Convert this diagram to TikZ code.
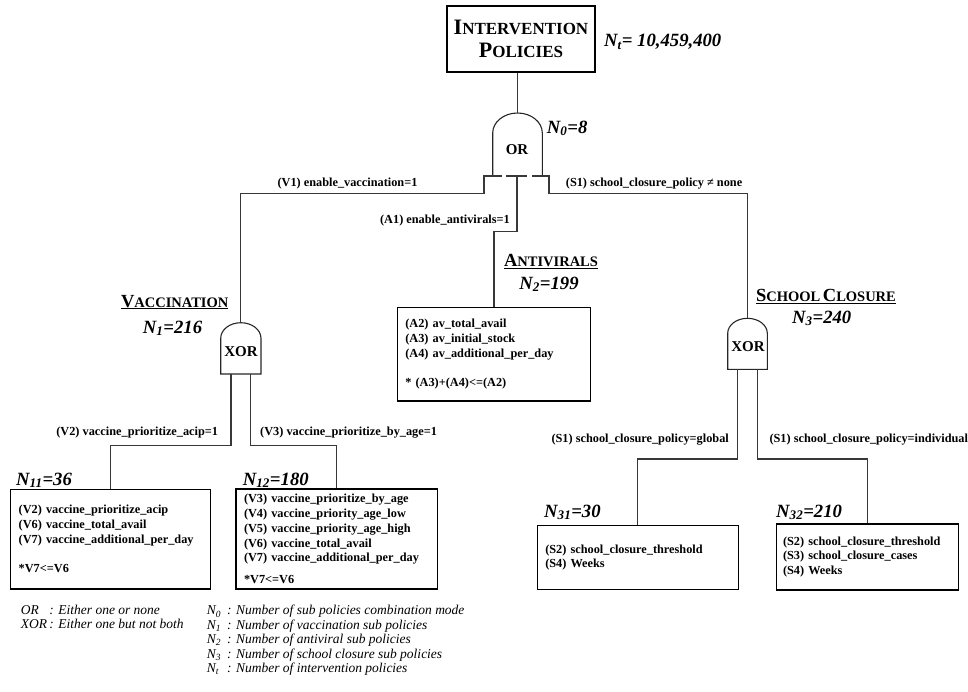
\documentclass[tikz,border=0pt]{standalone}
\usepackage{fontspec}
\setmainfont{Liberation Serif}
\newcommand{\fsc}[4]{{\fontsize{#1}{#1}\selectfont #3}{\fontsize{#2}{#2}\selectfont #4}}
\tikzset{
  conn/.style={draw=black!78, line width=1.1pt},
  gate/.style={draw=black!85, line width=1.1pt},
  lbl/.style={font=\fontsize{12.3}{14.7}\selectfont\bfseries, inner sep=0pt},
  nlbl/.style={font=\fontsize{18.7}{20}\selectfont\bfseries\itshape, inner sep=0pt},
  head/.style={font=\bfseries, inner sep=0pt},
  gatetxt/.style={font=\fontsize{15}{16}\selectfont\bfseries, inner sep=0pt},
  pbox/.style={draw=black, line width=1.1pt, align=left, inner xsep=8pt, inner ysep=0pt,
    font=\fontsize{12.3}{14.7}\selectfont\bfseries},
  legend/.style={font=\fontsize{13.5}{14.4}\selectfont\itshape, inner sep=0pt}
}
\begin{document}
\begin{tikzpicture}[x=1pt,y=-1pt]
\useasboundingbox (0,0) rectangle (968,691);

% top box
\node[draw=black, line width=1.1pt, minimum width=148pt, minimum height=66pt, align=center,
  font=\fontsize{22}{22.3}\selectfont\bfseries, inner sep=0pt] (ip) at (521,39)
  {\fsc{22}{17}{I}{NTERVENTION}\\\fsc{22}{17}{P}{OLICIES}};
\node[nlbl, anchor=base west] (nt) at (604,46.5) {N\textsubscript{t}= 10,459,400};

% OR gate
\coordinate (orTop) at (517.5,113);
\draw[gate] (492.7,176) -- (492.7,133) arc[start angle=180,end angle=0,x radius=24.8pt,y radius=20pt] -- (542.3,176);
\node[gatetxt] (ortxt) at (517,149.3) {OR};
\node[nlbl, anchor=base west] (n0) at (546.7,133) {N\textsubscript{0}=8};
\draw[conn] (orTop) -- (orTop |- ip.south);

% OR bottom connector stubs
\coordinate (orBL1) at (501.7,176);
\coordinate (orBL) at (484,176);
\coordinate (orBM1) at (506,176);
\coordinate (orBM2) at (527,176);
\coordinate (orBM) at (517,176);
\coordinate (orBR1) at (532,176);
\coordinate (orBR) at (549,176);

% vaccination gate
\coordinate (vgTop) at (240.85,322.7);
\draw[gate] (220.7,374) -- (220.7,338.3) arc[start angle=180,end angle=0,x radius=20.15pt,y radius=15.6pt] -- (261,374) -- cycle;
\node[gatetxt] (vgtxt) at (241,351.7) {XOR};
\coordinate (vgL) at (231,374);
\coordinate (vgR) at (250.7,374);

% school gate
\coordinate (sgTop) at (747.5,318.3);
\draw[gate] (727.7,369.3) -- (727.7,333.3) arc[start angle=180,end angle=0,x radius=19.8pt,y radius=15pt] -- (767.3,369.3) -- cycle;
\node[gatetxt] (sgtxt) at (748,346.7) {XOR};
\coordinate (sgL) at (737.7,369.3);
\coordinate (sgR) at (757.3,369.3);

% headings
\node[head, anchor=base] (vh) at (174.7,307) {\underline{\fsc{18.5}{14.5}{V}{ACCINATION}}};
\node[nlbl, anchor=base] (n1) at (172.5,333) {N\textsubscript{1}=216};
\node[head, anchor=base] (ah) at (551,266.7) {\underline{\fsc{18.5}{14.5}{A}{NTIVIRALS}}};
\node[nlbl, anchor=base] (n2) at (549,289) {N\textsubscript{2}=199};
\node[head, anchor=base] (sh) at (826,301.7) {\underline{\fsc{18.5}{14.5}{S}{CHOOL} \fsc{18.5}{14.5}{C}{LOSURE}}};
\node[nlbl, anchor=base] (n3) at (821.7,323) {N\textsubscript{3}=240};

% boxes
\node[pbox, text width=177.4pt, minimum height=93.7pt] (av) at (494,354.15)
  {(A2) av\_total\_avail\\(A3) av\_initial\_stock\\(A4) av\_additional\_per\_day\\[14.7pt]* (A3)+(A4)<=(A2)};
\node[pbox, text width=184pt, minimum height=99.7pt] (n11) at (110.7,539.15)
  {(V2) vaccine\_prioritize\_acip\\(V6) vaccine\_total\_avail\\(V7) vaccine\_additional\_per\_day\\[14.7pt]*V7<=V6};
\node[pbox, text width=185.7pt, minimum height=100pt] (n12) at (336.85,539)
  {(V3) vaccine\_prioritize\_by\_age\\(V4) vaccine\_priority\_age\_low\\(V5) vaccine\_priority\_age\_high\\(V6) vaccine\_total\_avail\\(V7) vaccine\_additional\_per\_day\\[7pt]*V7<=V6};
\node[pbox, text width=185pt, minimum height=63.6pt] (s31) at (637.8,557.5)
  {(S2) school\_closure\_threshold\\(S4) Weeks};
\node[pbox, text width=168.3pt, minimum height=66pt, inner xsep=7pt] (s32) at (867.2,557)
  {(S2) school\_closure\_threshold\\(S3) school\_closure\_cases\\(S4) Weeks};

\node[nlbl, anchor=base west] (n11l) at (16,485) {N\textsubscript{11}=36};
\node[nlbl, anchor=base west] (n12l) at (242.7,485) {N\textsubscript{12}=180};
\node[nlbl, anchor=base west] (n31l) at (544,517) {N\textsubscript{31}=30};
\node[nlbl, anchor=base west] (n32l) at (776,517) {N\textsubscript{32}=210};

% connectors
\draw[conn] (orBL1) -- (orBL) -- (484,193.5) -| (vgTop);
\draw[conn] (orBM1) -- (orBM2);
\draw[conn] (orBM) -- (517,231.7) -| (av.north);
\draw[conn] (orBR1) -- (orBR) -- (549,193.5) -| (sgTop);
\draw[conn] (vgL) -- (231,445.5) -| (n11.north);
\draw[conn] (vgR) -- (250.7,445.5) -| (n12.north);
\draw[conn] (sgL) -- (737.7,459) -| (s31.north);
\draw[conn] (sgR) -- (757.3,459) -| (s32.north);

% connector labels
\node[lbl, anchor=base] (lv1) at (347.5,186.7) {(V1) enable\_vaccination=1};
\node[lbl, anchor=base east] (la1) at (510,223) {(A1) enable\_antivirals=1};
\node[lbl, anchor=base west] (ls1) at (565.7,186) {(S1) school\_closure\_policy ≠ none};
\node[lbl, anchor=base east] (lv2) at (218.3,435.7) {(V2) vaccine\_prioritize\_acip=1};
\node[lbl, anchor=base west] (lv3) at (260,435.7) {(V3) vaccine\_prioritize\_by\_age=1};
\node[lbl, anchor=base east] (lsg) at (729,442.3) {(S1) school\_closure\_policy=global};
\node[lbl, anchor=base west] (lsi) at (769.3,442.3) {(S1) school\_closure\_policy=individual};

% legends
\node[legend, anchor=west] (leg1) at (20.7,618.85)
  {\begin{tabular}{@{}l@{\,}l@{}}OR & : Either one or none\\XOR & : Either one but not both\end{tabular}};
\node[legend, anchor=west] (leg2) at (206.7,640.85)
  {\begin{tabular}{@{}l@{\hspace{6pt}}l@{}}
  N\textsubscript{0} & : Number of sub policies combination mode\\
  N\textsubscript{1} & : Number of vaccination sub policies\\
  N\textsubscript{2} & : Number of antiviral sub policies\\
  N\textsubscript{3} & : Number of school closure sub policies\\
  N\textsubscript{t} & : Number of intervention policies
  \end{tabular}};
\end{tikzpicture}
\end{document}
